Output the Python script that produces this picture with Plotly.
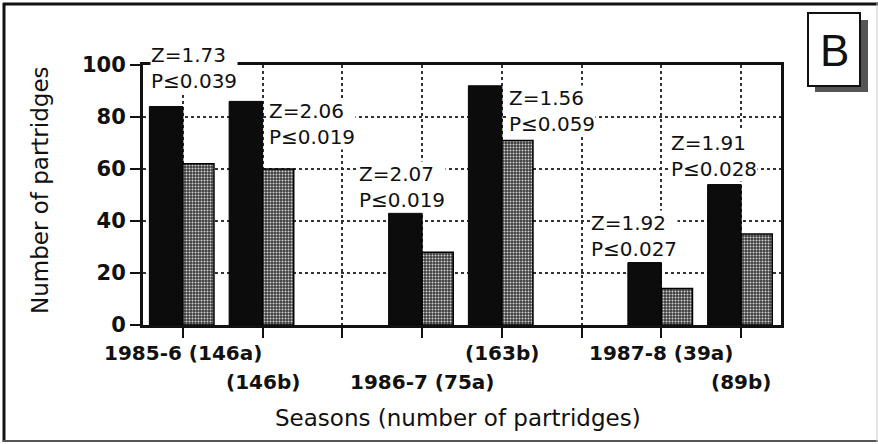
import plotly.graph_objects as go

# ---------------- data ----------------
axis_categories = ["146a", "146b", "gap1", "75a", "163b", "gap2", "39a", "89b"]
bar_categories = ["146a", "146b", "75a", "163b", "39a", "89b"]
tick_labels = ["1985-6 (146a)", "(146b)", "1986-7 (75a)", "(163b)", "1987-8 (39a)", "(89b)"]
tick_rows = [1, 2, 2, 1, 1, 2]
black_values = [84, 86, 43, 92, 24, 54]
gray_values = [62, 60, 28, 71, 14, 35]
z_values = ["1.73", "2.06", "2.07", "1.56", "1.92", "1.91"]
p_values = ["0.039", "0.019", "0.019", "0.059", "0.027", "0.028"]
stat_x = [-0.41, 1.07, 2.20, 4.08, 5.10, 6.11]
stat_y = [99.0, 77.5, 53.0, 82.3, 34.4, 65.0]
y_ticks = [0, 20, 40, 60, 80, 100]

W, H = 878, 444
L, R, T, B = 143, 97, 65, 119
PW, PH = W - L - R, H - T - B


def px2x(px):
    return (px - L) / PW


def py2y(py):
    return (H - B - py) / PH


FONT = "DejaVu Sans"

fig = go.Figure()
fig.add_trace(go.Bar(
    x=bar_categories, y=black_values, width=0.42, offset=-0.42,
    marker=dict(color="#0c0c0c", line=dict(color="#000", width=1)),
    showlegend=False,
))
fig.add_trace(go.Bar(
    x=bar_categories, y=gray_values, width=0.39, offset=0.0,
    marker=dict(color="#7a7a7a", line=dict(color="#000", width=1.5),
                pattern=dict(shape=".", fgcolor="#d4d4d4", bgcolor="#3c3c3c",
                             size=3, solidity=0.35, fillmode="replace")),
    showlegend=False,
))

annotations = []
for i, (zv, pv) in enumerate(zip(z_values, p_values)):
    annotations.append(dict(
        x=stat_x[i], y=stat_y[i], xref="x", yref="y",
        text=f"Z={zv}<br>P≤{pv}", showarrow=False,
        xanchor="left", yanchor="middle", align="left",
        font=dict(family=FONT, size=20, color="#111"),
        bgcolor="white", borderpad=0,
    ))

for cat, lab, row in zip(bar_categories, tick_labels, tick_rows):
    annotations.append(dict(
        x=cat, y=py2y(353 if row == 1 else 382), xref="x", yref="paper",
        text=lab, showarrow=False, xanchor="center", yanchor="middle",
        font=dict(family=FONT, size=20, color="#111", weight="bold"),
    ))

annotations.append(dict(
    x=px2x(458), y=py2y(418), xref="paper", yref="paper",
    text="Seasons (number of partridges)", showarrow=False,
    xanchor="center", yanchor="middle",
    font=dict(family=FONT, size=23, color="#111"),
))
annotations.append(dict(
    x=px2x(40), y=py2y(190), xref="paper", yref="paper",
    text="Number of partridges", showarrow=False, textangle=-90,
    xanchor="center", yanchor="middle",
    font=dict(family=FONT, size=23, color="#111"),
))
annotations.append(dict(
    x=px2x(834), y=py2y(50), xref="paper", yref="paper",
    text="B", showarrow=False, xanchor="center", yanchor="middle",
    font=dict(family="Liberation Sans", size=44, color="#111"),
))

shapes = [
    # outer frame
    dict(type="line", xref="paper", yref="paper", x0=px2x(4), x1=px2x(4),
         y0=py2y(3), y1=py2y(442), line=dict(color="#111", width=3)),
    dict(type="line", xref="paper", yref="paper", x0=px2x(3), x1=px2x(878),
         y0=py2y(4), y1=py2y(4), line=dict(color="#111", width=3)),
    dict(type="line", xref="paper", yref="paper", x0=px2x(3), x1=px2x(878),
         y0=py2y(441), y1=py2y(441), line=dict(color="#555", width=2)),
    dict(type="line", xref="paper", yref="paper", x0=px2x(877), x1=px2x(877),
         y0=py2y(3), y1=py2y(442), line=dict(color="#cccccc", width=1)),
    # B box shadow and box
    dict(type="rect", xref="paper", yref="paper", x0=px2x(815), x1=px2x(868),
         y0=py2y(20), y1=py2y(92), fillcolor="#555555", line=dict(width=0)),
    dict(type="rect", xref="paper", yref="paper", x0=px2x(808), x1=px2x(860),
         y0=py2y(13), y1=py2y(86), fillcolor="white",
         line=dict(color="#111", width=2)),
]

fig.update_layout(
    width=W, height=H,
    margin=dict(l=L, r=R, t=T, b=B, pad=0),
    paper_bgcolor="white", plot_bgcolor="white",
    barmode="overlay",
    annotations=annotations, shapes=shapes,
    xaxis=dict(
        type="category", categoryorder="array", categoryarray=axis_categories,
        range=[-0.5, len(axis_categories) - 0.5],
        showticklabels=False, ticks="outside", ticklen=10, tickwidth=2,
        tickcolor="#111",
        showgrid=True, gridcolor="#333", griddash="dot", gridwidth=1.5,
        showline=True, linecolor="#111", linewidth=3, mirror=True,
        zeroline=False,
    ),
    yaxis=dict(
        range=[0, 100], tickvals=y_ticks, ticks="outside", ticklen=10,
        tickwidth=2, tickcolor="#111",
        tickfont=dict(family=FONT, size=21, color="#111", weight="bold"),
        showgrid=True, gridcolor="#333", griddash="dot", gridwidth=1.5,
        showline=True, linecolor="#111", linewidth=3, mirror=True,
        zeroline=False,
    ),
)

fig.write_html("out.html", config={"displayModeBar": False},
               post_script="document.body.style.margin='0';document.body.style.overflow='hidden';")
